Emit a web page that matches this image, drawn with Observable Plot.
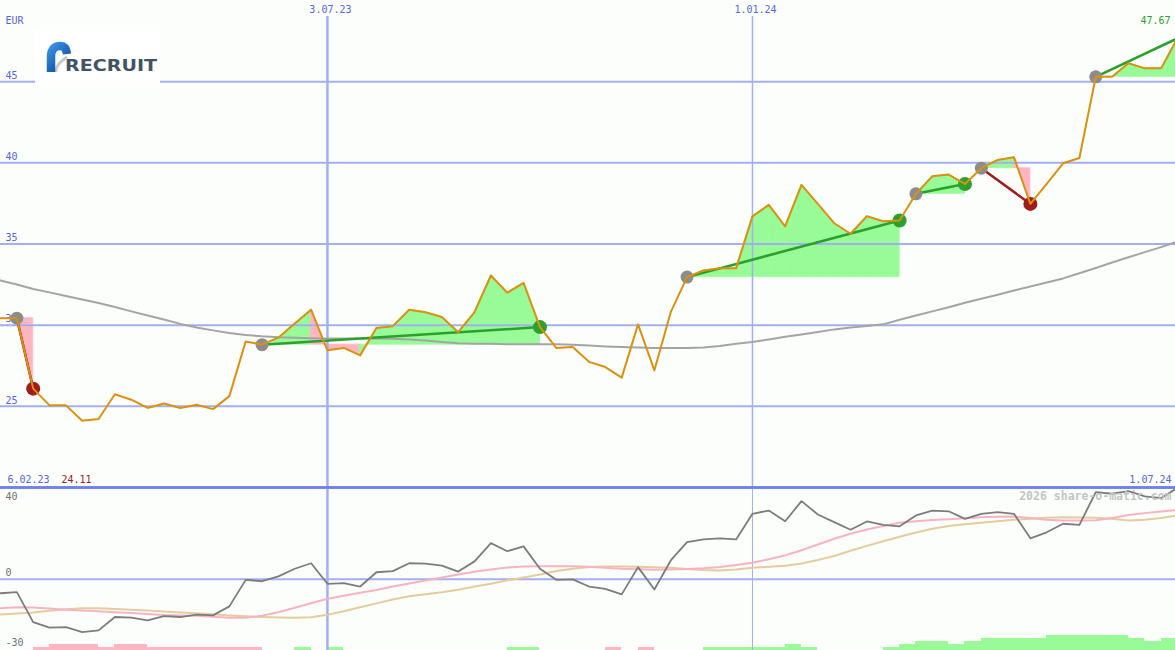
<!DOCTYPE html>
<html><head><meta charset="utf-8">
<script src="https://cdn.jsdelivr.net/npm/d3@7"></script>
<script src="https://cdn.jsdelivr.net/npm/@observablehq/plot@0.6"></script>
<style>
html,body{margin:0;padding:0;background:#fcfefc;}
#wrap{position:relative;width:1175px;height:650px;overflow:hidden;background:#fcfefc;}
#wrap svg.p{position:absolute;left:0;overflow:visible;}
#logo{position:absolute;left:35px;top:30px;width:125px;height:58px;background:#ffffff;}
</style></head><body><div id="wrap"><div id="logo"></div></div>
<script>
// ---------- data ----------
const firstWeek = "2023-02-13";           // weekly observations, Mondays
const price = [30.43,30.43,26.09,25.06,25.06,24.11,24.22,25.74,25.41,24.9,
 25.17,24.9,25.1,24.83,25.63,29.0,28.8,29.23,30.1,30.95,
 28.45,28.6,28.14,29.82,29.94,30.95,30.8,30.5,29.57,30.8,
 33.06,32.0,32.6,29.88,28.6,28.65,27.74,27.42,26.77,30.05,
 27.22,30.8,32.96,33.37,33.5,33.5,36.7,37.41,36.08,38.64,
 37.47,36.28,35.63,36.71,36.4,36.45,38.09,39.17,39.28,38.7,
 39.67,40.18,40.34,37.47,38.7,39.97,40.3,45.3,45.3,46.13,
 45.82,45.82,47.67];
const movingAvg = [32.75,32.51,32.23,32.02,31.80,31.58,31.37,31.12,30.85,30.60,
 30.35,30.08,29.86,29.68,29.52,29.40,29.31,29.25,29.22,29.20,
 29.18,29.18,29.18,29.18,29.17,29.12,29.06,28.97,28.88,28.86,
 28.85,28.83,28.82,28.82,28.82,28.80,28.75,28.69,28.65,28.63,
 28.60,28.59,28.59,28.63,28.72,28.85,28.97,29.12,29.28,29.43,
 29.58,29.74,29.86,29.95,30.05,30.33,30.60,30.85,31.10,31.38,
 31.63,31.87,32.14,32.38,32.63,32.88,33.20,33.52,33.86,34.18,
 34.50,34.81,35.15];
const momentum = [-6.1,-5.6,-18.6,-21.0,-20.8,-22.9,-22.2,-16.4,-16.7,-17.9,
 -16.0,-16.4,-15.4,-15.7,-11.8,-0.3,-0.9,1.2,4.5,6.9,
 -2.0,-1.7,-3.2,3.0,3.5,6.9,6.7,5.9,3.3,7.7,
 15.6,12.1,14.2,4.5,-0.3,-0.1,-3.2,-4.2,-6.6,5.2,
 -4.5,8.1,16.0,17.2,17.7,17.2,28.3,29.7,25.1,33.8,
 28.0,24.7,21.4,25.0,23.5,22.9,27.6,29.7,29.4,26.1,
 28.3,29.0,28.3,17.7,20.3,24.0,23.5,37.7,37.0,38.1,
 35.9,35.1,39.6];
const fastAvg = [-12.6,-12.2,-12.3,-12.7,-13.2,-13.6,-13.9,-14.3,-14.7,-15.1,
 -15.5,-15.7,-15.9,-16.3,-16.7,-16.7,-15.8,-14.3,-12.4,-10.4,
 -8.5,-7.2,-5.9,-4.7,-3.2,-1.9,-0.6,0.7,2.0,3.2,
 4.2,5.0,5.5,5.6,5.6,5.6,5.4,4.9,4.5,4.3,
 4.1,4.2,4.4,4.7,5.3,6.1,7.1,8.6,10.3,12.5,
 15.0,17.5,19.7,21.5,23.0,24.4,25.1,25.6,26.0,26.4,
 26.8,27.0,27.1,26.5,25.7,25.4,25.4,25.5,26.5,27.8,
 28.6,29.3,30.0];
const slowAvg = [-15.3,-14.9,-14.4,-13.7,-13.0,-12.6,-12.6,-12.9,-13.2,-13.6,
 -14.0,-14.4,-14.8,-15.2,-15.7,-16.1,-16.4,-16.6,-16.7,-16.5,
 -15.4,-13.9,-12.2,-10.5,-8.8,-7.4,-6.5,-5.7,-4.6,-3.2,
 -2.0,-0.5,0.7,2.0,3.5,4.5,5.3,5.5,5.5,5.4,
 5.2,4.9,4.4,4.0,3.8,4.2,4.9,5.4,5.8,6.8,
 8.3,10.0,12.3,14.4,16.4,18.4,20.2,21.8,23.0,23.8,
 24.4,25.1,25.7,26.2,26.6,26.8,26.7,26.6,26.2,25.4,
 25.7,26.5,27.6];
// signal strength per week interval (negative = pink, positive = green)
const strength = [0,0,-1,-2,-2,-2,-1,-2,-2,-1,
 -1,-1,-1,-1,-1,-1,0,0,1,0,
 1,0,0,0,0,0,0,0,0,0,
 0,1,1,0,0,0,0,-1,0,-1,
 0,0,0,1,1,1,1,1,2,1,
 0,0,0,0,1,2,3,3,2,3,
 4,4,4,4,5,5,5,5,5,4,3,4];
const sigStart = [1,16,42,56,60,67];
const sigEnd   = [2,33,55,59,63,72];
const sigDir   = ["down","up","up","up","down","up"];
const sigClosed = [true,true,true,true,true,false];
const yTicks = [25,30,35,40,45];
const lowerTicks = [0,-30];
const lowerTop = [40];
const dateTicks = ["2023-07-03","2024-01-01"];
const dateTickLabels = ["3.07.23","1.01.24"];
const firstLabel = "6.02.23", lowLabel = "24.11", lastLabel = "1.07.24", lastPrice = "47.67";
const currency = "EUR", watermark = "2026 share-o-matic.com";

// ---------- styles ----------
const C = {grid:"#a3aff0", border:"#6e80ea", text:"#5566e4", price:"#dc9010", ma:"#a4a4a4",
  green:"#2ca02c", red:"#a01c1c", fillG:"#98fb98", fillP:"#ffb6c1", dot:"#8c8c8c",
  mom:"#7c7c7c", fast:"#f8b2c2", slow:"#e4cc9c", axisGray:"#707070", wm:"#c4c4c4"};
const FONT = "DejaVu Sans Mono";

// ---------- derived ----------
const parse = d3.utcParse("%Y-%m-%d");
const t0 = parse(firstWeek);
const dates = price.map((_, i) => d3.utcDay.offset(t0, 7 * i));
const rows = price.map((p, i) => ({date: dates[i], price: p, ma: movingAvg[i], mom: momentum[i], fast: fastAvg[i], slow: slowAvg[i]}));
const xScale = {domain: [dates[0], dates[dates.length - 1]], range: [0, 1177]};

const fills = [], trends = [], startDots = [], endDots = [];
sigStart.forEach((s, j) => {
  const e = sigEnd[j], base = price[s];
  for (let k = s; k < e; k++) {
    const up = price[k + 1] >= base, id = j + "-" + k;
    fills.push({id, date: dates[k], y1: base, y2: price[k], up});
    fills.push({id, date: dates[k + 1], y1: base, y2: price[k + 1], up});
  }
  trends.push({id: j, date: dates[s], p: price[s], dir: sigDir[j]}, {id: j, date: dates[e], p: price[e], dir: sigDir[j]});
  startDots.push({date: dates[s], p: price[s]});
  if (sigClosed[j]) endDots.push({date: dates[e], p: price[e], dir: sigDir[j]});
});
const bars = strength.map((v, k) => ({x1: dates[k], x2: dates[k + 1], v})).filter(d => d.v !== 0);

const wrap = document.getElementById("wrap");
function place(svg, y) { svg.classList.add("p"); svg.style.top = y + "px"; wrap.insertBefore(svg, document.getElementById("logo")); }
const txt = {fontFamily: FONT, fontSize: 10};
const fillColor = d => d.up ? C.fillG : C.fillP;

// ---------- top panel ----------
const pricePlot = Plot.plot({
  width: 1175, height: 489, marginTop: 0, marginBottom: 2, marginLeft: 0, marginRight: 0,
  x: {...xScale, type: "utc", axis: null}, y: {domain: [20, 50], axis: null},
  color: {type: "identity"},
  style: {background: "transparent", fontFamily: FONT},
  marks: [
    Plot.areaY(fills, {x: "date", y1: "y1", y2: "y2", z: "id", fill: fillColor, stroke: fillColor, strokeWidth: 0.8}),
    Plot.ruleY(yTicks, {stroke: C.grid, strokeWidth: 2}),
    Plot.ruleX([parse(dateTicks[0])], {stroke: C.grid, strokeWidth: 2.5, insetTop: 16}),
    Plot.ruleX([parse(dateTicks[1])], {stroke: C.grid, strokeWidth: 1.5, insetTop: 16}),
    Plot.ruleY([20], {stroke: C.border, strokeWidth: 2.5}),
    Plot.line(rows, {x: "date", y: "ma", stroke: C.ma, strokeWidth: 2}),
    Plot.line(trends, {x: "date", y: "p", z: "id", stroke: d => d.dir === "up" ? C.green : C.red, strokeWidth: 2.5}),
    Plot.text(yTicks, {y: d => d, text: d => String(d), frameAnchor: "left", textAnchor: "start", dx: 5, dy: -6, fill: C.text, ...txt}),
    Plot.text([currency], {text: d => d, frameAnchor: "top-left", textAnchor: "start", lineAnchor: "middle", dx: 5, dy: 20, fill: C.text, ...txt}),
    Plot.text(dateTicks, {x: d => parse(d), text: (d, i) => dateTickLabels[i], frameAnchor: "top", lineAnchor: "middle", dx: 3, dy: 9, fill: C.text, ...txt}),
    Plot.text([lastPrice], {text: d => d, frameAnchor: "top-right", textAnchor: "end", lineAnchor: "middle", dx: -5, dy: 20, fill: C.green, ...txt}),
    Plot.text([firstLabel], {text: d => d, frameAnchor: "bottom-left", textAnchor: "start", lineAnchor: "middle", dx: 7, dy: -8, fill: C.text, ...txt}),
    Plot.text([lowLabel], {text: d => d, frameAnchor: "bottom-left", textAnchor: "start", lineAnchor: "middle", dx: 61, dy: -8, fill: C.red, ...txt}),
    Plot.text([lastLabel], {text: d => d, frameAnchor: "bottom-right", textAnchor: "end", lineAnchor: "middle", dx: -4, dy: -8, fill: C.text, ...txt}),
    Plot.dot(startDots, {x: "date", y: "p", r: 6.5, fill: C.dot}),
    Plot.dot(endDots, {x: "date", y: "p", r: 7, fill: d => d.dir === "up" ? C.green : C.red}),
    Plot.line(rows, {x: "date", y: "price", stroke: C.price, strokeWidth: 2})
  ]
});
place(pricePlot, 0);

// ---------- lower panel: histogram ----------
const histPlot = Plot.plot({
  width: 1175, height: 163, marginTop: 0, marginBottom: 0, marginLeft: 0, marginRight: 0,
  x: {...xScale, type: "utc", axis: null}, y: {domain: [0, 163 / 3], axis: null},
  color: {type: "identity"},
  style: {background: "transparent"},
  marks: [
    Plot.rect(bars, {x1: "x1", x2: "x2", y1: () => 0, y2: d => Math.abs(d.v), fill: d => d.v > 0 ? C.fillG : C.fillP, shapeRendering: "crispEdges"})
  ]
});
place(histPlot, 487);

// ---------- lower panel: oscillator ----------
const oscPlot = Plot.plot({
  width: 1175, height: 163, marginTop: 0, marginBottom: 0, marginLeft: 0, marginRight: 0,
  x: {...xScale, type: "utc", axis: null}, y: {domain: [-30.9, 39.7], axis: null},
  style: {background: "transparent", fontFamily: FONT},
  marks: [
    Plot.ruleY([0], {stroke: C.grid, strokeWidth: 2}),
    Plot.ruleX([parse(dateTicks[0])], {stroke: C.grid, strokeWidth: 2.5}),
    Plot.ruleX([parse(dateTicks[1])], {stroke: C.grid, strokeWidth: 1}),
    Plot.line(rows, {x: "date", y: "slow", stroke: C.slow, strokeWidth: 2}),
    Plot.line(rows, {x: "date", y: "fast", stroke: C.fast, strokeWidth: 2}),
    Plot.line(rows, {x: "date", y: "mom", stroke: C.mom, strokeWidth: 1.8}),
    Plot.text(lowerTicks, {y: d => d, text: d => String(d), frameAnchor: "left", textAnchor: "start", dx: 5, dy: -6, fill: C.axisGray, ...txt}),
    Plot.text(lowerTop, {text: d => String(d), frameAnchor: "top-left", textAnchor: "start", lineAnchor: "middle", dx: 5, dy: 9, fill: C.axisGray, ...txt}),
    Plot.text([watermark], {text: d => d, frameAnchor: "top-right", textAnchor: "end", lineAnchor: "middle", dx: -4, dy: 9, fill: C.wm, fontFamily: FONT, fontSize: 11.5, fontWeight: "bold"}),
    Plot.ruleY([39.7], {stroke: C.border, strokeWidth: 2.5})
  ]
});
place(oscPlot, 487);

// ---------- logo ----------
document.getElementById("logo").innerHTML =
 '<svg width="125" height="58" xmlns="http://www.w3.org/2000/svg">' +
 '<defs><linearGradient id="lg" x1="0" y1="0" x2="0.6" y2="1"><stop offset="0" stop-color="#3a8ee0"/><stop offset="1" stop-color="#0d4f9e"/></linearGradient></defs>' +
 '<path d="M21 42 Q20 35 32 27" fill="none" stroke="#c3c8cf" stroke-width="3"/>' +
 '<path d="M16 42 L16 27 Q16 16 25.5 16 Q31 16 32 24" fill="none" stroke="url(#lg)" stroke-width="8.5"/>' +
 '<text x="30" y="41" font-family="DejaVu Sans" font-weight="bold" font-size="15" textLength="92" lengthAdjust="spacingAndGlyphs" fill="#435364">RECRUIT</text>' +
 '</svg>';
</script>
</body></html>
